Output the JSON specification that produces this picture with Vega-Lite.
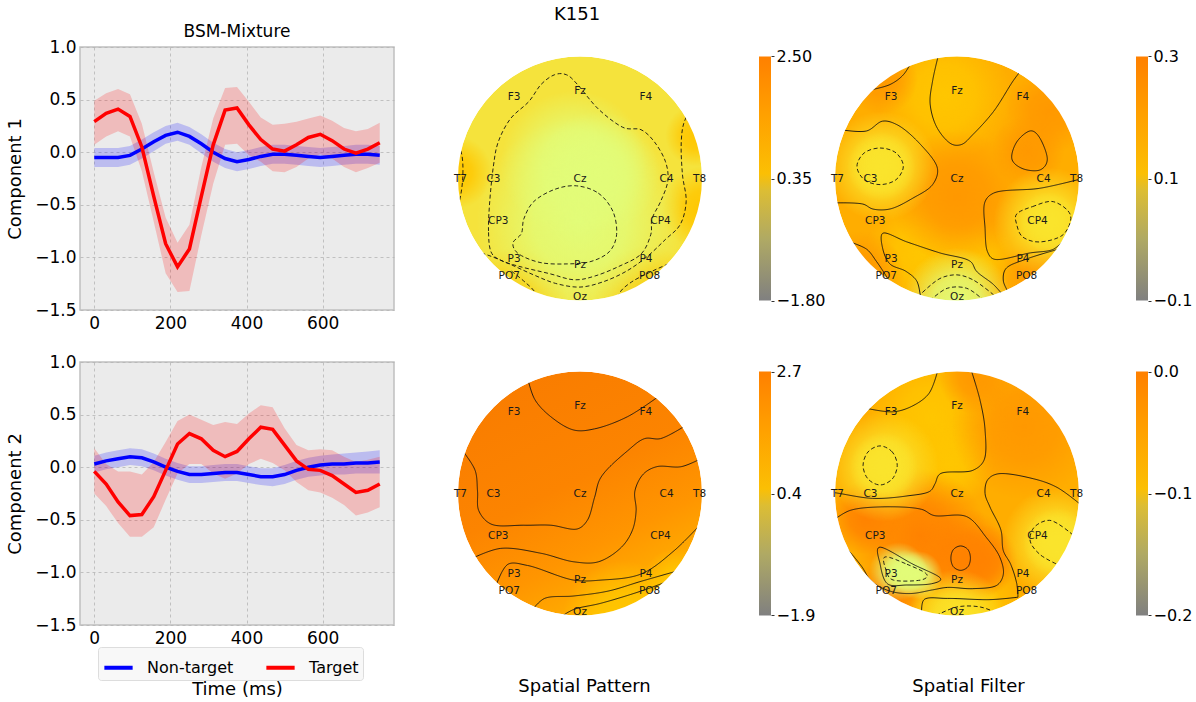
{
"$schema": "https://vega.github.io/schema/vega-lite/v6.json",
"background": "white",
"padding": {"left": 5, "top": 6, "right": 0, "bottom": 0},
"config": {
  "font": "DejaVu Sans",
  "view": {"stroke": null},
  "axis": {"labelFont": "DejaVu Sans", "titleFont": "DejaVu Sans", "labelColor": "#000", "titleColor": "#000", "titleFontWeight": "normal"},
  "title": {"font": "DejaVu Sans", "fontWeight": "normal", "color": "#000"},
  "legend": {"labelFont": "DejaVu Sans", "labelColor": "#000"}
},
"resolve": {"scale": {"color": "independent", "size": "independent", "strokeDash": "independent"}, "legend": {"color": "independent"}},
"datasets": {
  "ts": [
    {"c":1,"cls":"Non-target","t":0,"m":-0.05,"lo":-0.14,"hi":0.04},
    {"c":1,"cls":"Non-target","t":31.25,"m":-0.05,"lo":-0.14,"hi":0.04},
    {"c":1,"cls":"Non-target","t":62.5,"m":-0.05,"lo":-0.14,"hi":0.04},
    {"c":1,"cls":"Non-target","t":93.75,"m":-0.03,"lo":-0.12,"hi":0.06},
    {"c":1,"cls":"Non-target","t":125,"m":0.03,"lo":-0.06,"hi":0.12},
    {"c":1,"cls":"Non-target","t":156.25,"m":0.10,"lo":0.01,"hi":0.19},
    {"c":1,"cls":"Non-target","t":187.5,"m":0.16,"lo":0.08,"hi":0.25},
    {"c":1,"cls":"Non-target","t":218.75,"m":0.19,"lo":0.11,"hi":0.28},
    {"c":1,"cls":"Non-target","t":250,"m":0.15,"lo":0.07,"hi":0.24},
    {"c":1,"cls":"Non-target","t":281.25,"m":0.08,"lo":-0.01,"hi":0.17},
    {"c":1,"cls":"Non-target","t":312.5,"m":0.00,"lo":-0.09,"hi":0.09},
    {"c":1,"cls":"Non-target","t":343.75,"m":-0.06,"lo":-0.15,"hi":0.03},
    {"c":1,"cls":"Non-target","t":375,"m":-0.09,"lo":-0.18,"hi":0.00},
    {"c":1,"cls":"Non-target","t":406.25,"m":-0.07,"lo":-0.16,"hi":0.02},
    {"c":1,"cls":"Non-target","t":437.5,"m":-0.04,"lo":-0.13,"hi":0.05},
    {"c":1,"cls":"Non-target","t":468.75,"m":-0.02,"lo":-0.11,"hi":0.07},
    {"c":1,"cls":"Non-target","t":500,"m":-0.02,"lo":-0.11,"hi":0.07},
    {"c":1,"cls":"Non-target","t":531.25,"m":-0.03,"lo":-0.12,"hi":0.06},
    {"c":1,"cls":"Non-target","t":562.5,"m":-0.04,"lo":-0.13,"hi":0.05},
    {"c":1,"cls":"Non-target","t":593.75,"m":-0.05,"lo":-0.14,"hi":0.04},
    {"c":1,"cls":"Non-target","t":625,"m":-0.04,"lo":-0.13,"hi":0.05},
    {"c":1,"cls":"Non-target","t":656.25,"m":-0.03,"lo":-0.12,"hi":0.06},
    {"c":1,"cls":"Non-target","t":687.5,"m":-0.02,"lo":-0.11,"hi":0.07},
    {"c":1,"cls":"Non-target","t":718.75,"m":-0.02,"lo":-0.11,"hi":0.07},
    {"c":1,"cls":"Non-target","t":750,"m":-0.03,"lo":-0.12,"hi":0.06},
    {"c":1,"cls":"Target","t":0,"m":0.29,"lo":0.07,"hi":0.49},
    {"c":1,"cls":"Target","t":31.25,"m":0.37,"lo":0.15,"hi":0.56},
    {"c":1,"cls":"Target","t":62.5,"m":0.41,"lo":0.20,"hi":0.60},
    {"c":1,"cls":"Target","t":93.75,"m":0.34,"lo":0.15,"hi":0.55},
    {"c":1,"cls":"Target","t":125,"m":0.05,"lo":-0.18,"hi":0.27},
    {"c":1,"cls":"Target","t":156.25,"m":-0.42,"lo":-0.66,"hi":-0.19},
    {"c":1,"cls":"Target","t":187.5,"m":-0.87,"lo":-1.15,"hi":-0.62},
    {"c":1,"cls":"Target","t":218.75,"m":-1.09,"lo":-1.33,"hi":-0.86},
    {"c":1,"cls":"Target","t":250,"m":-0.92,"lo":-1.32,"hi":-0.69},
    {"c":1,"cls":"Target","t":281.25,"m":-0.42,"lo":-0.79,"hi":-0.14},
    {"c":1,"cls":"Target","t":312.5,"m":0.07,"lo":-0.30,"hi":0.32},
    {"c":1,"cls":"Target","t":343.75,"m":0.40,"lo":0.07,"hi":0.61},
    {"c":1,"cls":"Target","t":375,"m":0.42,"lo":0.08,"hi":0.62},
    {"c":1,"cls":"Target","t":406.25,"m":0.26,"lo":-0.03,"hi":0.48},
    {"c":1,"cls":"Target","t":437.5,"m":0.12,"lo":-0.09,"hi":0.33},
    {"c":1,"cls":"Target","t":468.75,"m":0.03,"lo":-0.18,"hi":0.26},
    {"c":1,"cls":"Target","t":500,"m":0.01,"lo":-0.19,"hi":0.27},
    {"c":1,"cls":"Target","t":531.25,"m":0.07,"lo":-0.14,"hi":0.29},
    {"c":1,"cls":"Target","t":562.5,"m":0.14,"lo":-0.06,"hi":0.32},
    {"c":1,"cls":"Target","t":593.75,"m":0.17,"lo":-0.02,"hi":0.35},
    {"c":1,"cls":"Target","t":625,"m":0.11,"lo":-0.06,"hi":0.30},
    {"c":1,"cls":"Target","t":656.25,"m":0.03,"lo":-0.14,"hi":0.23},
    {"c":1,"cls":"Target","t":687.5,"m":-0.01,"lo":-0.19,"hi":0.20},
    {"c":1,"cls":"Target","t":718.75,"m":0.03,"lo":-0.15,"hi":0.22},
    {"c":1,"cls":"Target","t":750,"m":0.09,"lo":-0.10,"hi":0.28},
    {"c":2,"cls":"Non-target","t":0,"m":0.03,"lo":-0.05,"hi":0.11},
    {"c":2,"cls":"Non-target","t":31.25,"m":0.06,"lo":-0.02,"hi":0.14},
    {"c":2,"cls":"Non-target","t":62.5,"m":0.08,"lo":0.00,"hi":0.16},
    {"c":2,"cls":"Non-target","t":93.75,"m":0.10,"lo":0.02,"hi":0.18},
    {"c":2,"cls":"Non-target","t":125,"m":0.09,"lo":0.01,"hi":0.17},
    {"c":2,"cls":"Non-target","t":156.25,"m":0.05,"lo":-0.03,"hi":0.13},
    {"c":2,"cls":"Non-target","t":187.5,"m":0.00,"lo":-0.08,"hi":0.08},
    {"c":2,"cls":"Non-target","t":218.75,"m":-0.04,"lo":-0.12,"hi":0.04},
    {"c":2,"cls":"Non-target","t":250,"m":-0.07,"lo":-0.15,"hi":0.01},
    {"c":2,"cls":"Non-target","t":281.25,"m":-0.07,"lo":-0.15,"hi":0.01},
    {"c":2,"cls":"Non-target","t":312.5,"m":-0.06,"lo":-0.14,"hi":0.02},
    {"c":2,"cls":"Non-target","t":343.75,"m":-0.05,"lo":-0.13,"hi":0.03},
    {"c":2,"cls":"Non-target","t":375,"m":-0.05,"lo":-0.13,"hi":0.03},
    {"c":2,"cls":"Non-target","t":406.25,"m":-0.07,"lo":-0.15,"hi":0.01},
    {"c":2,"cls":"Non-target","t":437.5,"m":-0.09,"lo":-0.17,"hi":-0.01},
    {"c":2,"cls":"Non-target","t":468.75,"m":-0.09,"lo":-0.18,"hi":-0.01},
    {"c":2,"cls":"Non-target","t":500,"m":-0.07,"lo":-0.16,"hi":0.02},
    {"c":2,"cls":"Non-target","t":531.25,"m":-0.03,"lo":-0.12,"hi":0.06},
    {"c":2,"cls":"Non-target","t":562.5,"m":0.00,"lo":-0.09,"hi":0.09},
    {"c":2,"cls":"Non-target","t":593.75,"m":0.02,"lo":-0.08,"hi":0.11},
    {"c":2,"cls":"Non-target","t":625,"m":0.03,"lo":-0.07,"hi":0.12},
    {"c":2,"cls":"Non-target","t":656.25,"m":0.03,"lo":-0.07,"hi":0.13},
    {"c":2,"cls":"Non-target","t":687.5,"m":0.04,"lo":-0.06,"hi":0.14},
    {"c":2,"cls":"Non-target","t":718.75,"m":0.04,"lo":-0.06,"hi":0.15},
    {"c":2,"cls":"Non-target","t":750,"m":0.05,"lo":-0.06,"hi":0.16},
    {"c":2,"cls":"Target","t":0,"m":-0.04,"lo":-0.25,"hi":0.18},
    {"c":2,"cls":"Target","t":31.25,"m":-0.16,"lo":-0.37,"hi":0.03},
    {"c":2,"cls":"Target","t":62.5,"m":-0.33,"lo":-0.53,"hi":-0.04},
    {"c":2,"cls":"Target","t":93.75,"m":-0.46,"lo":-0.66,"hi":-0.04},
    {"c":2,"cls":"Target","t":125,"m":-0.45,"lo":-0.66,"hi":-0.07},
    {"c":2,"cls":"Target","t":156.25,"m":-0.28,"lo":-0.57,"hi":0.05},
    {"c":2,"cls":"Target","t":187.5,"m":-0.03,"lo":-0.31,"hi":0.24},
    {"c":2,"cls":"Target","t":218.75,"m":0.22,"lo":-0.06,"hi":0.44},
    {"c":2,"cls":"Target","t":250,"m":0.32,"lo":0.03,"hi":0.50},
    {"c":2,"cls":"Target","t":281.25,"m":0.27,"lo":0.03,"hi":0.45},
    {"c":2,"cls":"Target","t":312.5,"m":0.16,"lo":-0.06,"hi":0.40},
    {"c":2,"cls":"Target","t":343.75,"m":0.10,"lo":-0.11,"hi":0.43},
    {"c":2,"cls":"Target","t":375,"m":0.15,"lo":-0.06,"hi":0.41},
    {"c":2,"cls":"Target","t":406.25,"m":0.27,"lo":0.03,"hi":0.51},
    {"c":2,"cls":"Target","t":437.5,"m":0.38,"lo":0.08,"hi":0.59},
    {"c":2,"cls":"Target","t":468.75,"m":0.36,"lo":0.04,"hi":0.57},
    {"c":2,"cls":"Target","t":500,"m":0.21,"lo":-0.03,"hi":0.37},
    {"c":2,"cls":"Target","t":531.25,"m":0.06,"lo":-0.14,"hi":0.21},
    {"c":2,"cls":"Target","t":562.5,"m":-0.02,"lo":-0.22,"hi":0.16},
    {"c":2,"cls":"Target","t":593.75,"m":-0.03,"lo":-0.24,"hi":0.17},
    {"c":2,"cls":"Target","t":625,"m":-0.08,"lo":-0.29,"hi":0.16},
    {"c":2,"cls":"Target","t":656.25,"m":-0.16,"lo":-0.36,"hi":0.10},
    {"c":2,"cls":"Target","t":687.5,"m":-0.24,"lo":-0.46,"hi":0.05},
    {"c":2,"cls":"Target","t":718.75,"m":-0.22,"lo":-0.43,"hi":0.07},
    {"c":2,"cls":"Target","t":750,"m":-0.16,"lo":-0.38,"hi":0.10}
  ],
  "disk": [
    {"m":1,"x":0,"y":0,"r":1},{"m":2,"x":0,"y":0,"r":1},{"m":3,"x":0,"y":0,"r":1},{"m":4,"x":0,"y":0,"r":1}
  ],
  "blobs": [
    {"m":1,"k":"gold","x":-0.55,"y":-1.02,"r":0.45},
    {"m":1,"k":"gold","x":0.55,"y":-1.0,"r":0.45},
    {"m":1,"k":"gold","x":1.02,"y":-0.25,"r":0.35},
    {"m":1,"k":"gold","x":0.95,"y":0.35,"r":0.25},
    {"m":1,"k":"gold","x":-1.02,"y":0.05,"r":0.3},
    {"m":1,"k":"lime","x":0,"y":-0.35,"r":0.85},
    {"m":1,"k":"lime","x":-0.05,"y":0.12,"r":0.6},
    {"m":1,"k":"lime","x":0.15,"y":0.05,"r":0.5},
    {"m":2,"k":"gold","x":-0.1,"y":0.68,"r":0.55},
    {"m":2,"k":"gold","x":-0.3,"y":-0.62,"r":0.45},
    {"m":2,"k":"gold","x":0.12,"y":-0.66,"r":0.35},
    {"m":2,"k":"org","x":0.58,"y":0.22,"r":0.3},
    {"m":2,"k":"org","x":-0.78,"y":-0.78,"r":0.35},
    {"m":2,"k":"org","x":0.72,"y":-0.8,"r":0.35},
    {"m":2,"k":"org","x":0.0,"y":-0.15,"r":0.55},
    {"m":2,"k":"org","x":-0.62,"y":0.82,"r":0.3},
    {"m":2,"k":"org","x":0.75,"y":0.55,"r":0.35},
    {"m":2,"k":"ylw","x":-0.62,"y":0.1,"r":0.45},
    {"m":2,"k":"ylw","x":-0.62,"y":0.1,"r":0.28},
    {"m":2,"k":"ylw","x":0.75,"y":-0.36,"r":0.45},
    {"m":2,"k":"ylw","x":0.75,"y":-0.36,"r":0.25},
    {"m":2,"k":"lime","x":0,"y":-1.02,"r":0.45},
    {"m":3,"k":"gold","x":0.35,"y":-1.05,"r":0.5},
    {"m":3,"k":"gold","x":0.8,"y":-0.75,"r":0.3},
    {"m":4,"k":"gold","x":-0.2,"y":0.62,"r":0.55},
    {"m":4,"k":"gold","x":-0.05,"y":0.25,"r":0.35},
    {"m":4,"k":"gold","x":0.1,"y":-1.0,"r":0.5},
    {"m":4,"k":"org","x":0.55,"y":0.55,"r":0.6},
    {"m":4,"k":"org","x":0.15,"y":0.95,"r":0.3},
    {"m":4,"k":"dorg","x":-0.3,"y":-0.35,"r":0.55},
    {"m":4,"k":"dorg","x":0.05,"y":-0.52,"r":0.4},
    {"m":4,"k":"dorg","x":-0.75,"y":-0.2,"r":0.3},
    {"m":4,"k":"dorg","x":-0.58,"y":-0.85,"r":0.3},
    {"m":4,"k":"dorg","x":0.2,"y":-0.55,"r":0.3},
    {"m":4,"k":"ylw","x":-0.6,"y":0.22,"r":0.45},
    {"m":4,"k":"ylw","x":-0.6,"y":0.22,"r":0.28},
    {"m":4,"k":"ylw","x":0.82,"y":-0.4,"r":0.45},
    {"m":4,"k":"ylw","x":0.82,"y":-0.4,"r":0.28},
    {"m":4,"k":"ylw","x":0.0,"y":-1.02,"r":0.4},
    {"m":4,"k":"lime","x":-0.48,"y":-0.64,"r":0.24},
    {"m":4,"k":"lime","x":-0.32,"y":-0.67,"r":0.2},
    {"m":4,"k":"lime","x":-0.42,"y":-0.64,"r":0.18}
  ],
  "ct": [
    {"m":1,"c":"1C","ls":"d","x":-1.03,"y":0.32},{"m":1,"c":"1C","ls":"d","x":-0.975,"y":0.22},{"m":1,"c":"1C","ls":"d","x":-0.96,"y":0.03},{"m":1,"c":"1C","ls":"d","x":-0.99,"y":-0.19},{"m":1,"c":"1C","ls":"d","x":-1.03,"y":-0.28},
    {"m":1,"c":"1D","ls":"d","x":0.92,"y":0.6},{"m":1,"c":"1D","ls":"d","x":0.85,"y":0.45},{"m":1,"c":"1D","ls":"d","x":0.83,"y":0.3},{"m":1,"c":"1D","ls":"d","x":0.84,"y":0.03},{"m":1,"c":"1D","ls":"d","x":0.87,"y":-0.19},{"m":1,"c":"1D","ls":"d","x":0.82,"y":-0.38},{"m":1,"c":"1D","ls":"d","x":0.7,"y":-0.5},{"m":1,"c":"1D","ls":"d","x":0.55,"y":-0.64},{"m":1,"c":"1D","ls":"d","x":0.38,"y":-0.76},{"m":1,"c":"1D","ls":"d","x":0.18,"y":-0.85},{"m":1,"c":"1D","ls":"d","x":0,"y":-0.89},{"m":1,"c":"1D","ls":"d","x":-0.2,"y":-0.86},{"m":1,"c":"1D","ls":"d","x":-0.38,"y":-0.79},{"m":1,"c":"1D","ls":"d","x":-0.58,"y":-0.7},{"m":1,"c":"1D","ls":"d","x":-0.78,"y":-0.62},{"m":1,"c":"1D","ls":"d","x":-0.96,"y":-0.58},
    {"m":1,"c":"1E","ls":"d","x":-0.56,"y":-0.76},{"m":1,"c":"1E","ls":"d","x":-0.45,"y":-0.85},{"m":1,"c":"1E","ls":"d","x":-0.37,"y":-0.93},{"m":1,"c":"1E","ls":"d","x":-0.33,"y":-1.03},
    {"m":1,"c":"1F","ls":"d","x":0.3,"y":-1.03},{"m":1,"c":"1F","ls":"d","x":0.33,"y":-0.93},{"m":1,"c":"1F","ls":"d","x":0.42,"y":-0.85},{"m":1,"c":"1F","ls":"d","x":0.57,"y":-0.77},{"m":1,"c":"1F","ls":"d","x":0.77,"y":-0.68},{"m":1,"c":"1F","ls":"d","x":0.95,"y":-0.6},
    {"m":2,"c":"2A","ls":"s","x":-0.74,"y":0.72},{"m":2,"c":"2A","ls":"s","x":-0.55,"y":0.77},{"m":2,"c":"2A","ls":"s","x":-0.44,"y":0.85},{"m":2,"c":"2A","ls":"s","x":-0.36,"y":0.98},
    {"m":2,"c":"2B","ls":"s","x":-0.15,"y":1.02},{"m":2,"c":"2B","ls":"s","x":-0.2,"y":0.8},{"m":2,"c":"2B","ls":"s","x":-0.22,"y":0.61},{"m":2,"c":"2B","ls":"s","x":-0.16,"y":0.41},{"m":2,"c":"2B","ls":"s","x":-0.04,"y":0.28},{"m":2,"c":"2B","ls":"s","x":0.04,"y":0.28},{"m":2,"c":"2B","ls":"s","x":0.13,"y":0.36},{"m":2,"c":"2B","ls":"s","x":0.3,"y":0.55},{"m":2,"c":"2B","ls":"s","x":0.46,"y":0.8},{"m":2,"c":"2B","ls":"s","x":0.52,"y":0.88},
    {"m":2,"c":"2C","ls":"s","x":-0.95,"y":0.4},{"m":2,"c":"2C","ls":"s","x":-0.74,"y":0.39},{"m":2,"c":"2C","ls":"s","x":-0.61,"y":0.47},{"m":2,"c":"2C","ls":"s","x":-0.49,"y":0.44},{"m":2,"c":"2C","ls":"s","x":-0.3,"y":0.28},{"m":2,"c":"2C","ls":"s","x":-0.16,"y":0.08},{"m":2,"c":"2C","ls":"s","x":-0.2,"y":-0.05},{"m":2,"c":"2C","ls":"s","x":-0.36,"y":-0.16},{"m":2,"c":"2C","ls":"s","x":-0.55,"y":-0.25},{"m":2,"c":"2C","ls":"s","x":-0.69,"y":-0.25},{"m":2,"c":"2C","ls":"s","x":-0.77,"y":-0.21},{"m":2,"c":"2C","ls":"s","x":-0.99,"y":-0.2},
    {"m":2,"c":"2F","ls":"s","x":0.99,"y":-0.01},{"m":2,"c":"2F","ls":"s","x":0.68,"y":-0.08},{"m":2,"c":"2F","ls":"s","x":0.3,"y":-0.12},{"m":2,"c":"2F","ls":"s","x":0.23,"y":-0.19},{"m":2,"c":"2F","ls":"s","x":0.23,"y":-0.41},{"m":2,"c":"2F","ls":"s","x":0.25,"y":-0.6},{"m":2,"c":"2F","ls":"s","x":0.3,"y":-0.66},{"m":2,"c":"2F","ls":"s","x":0.6,"y":-0.61},{"m":2,"c":"2F","ls":"s","x":0.79,"y":-0.58},{"m":2,"c":"2F","ls":"s","x":0.87,"y":-0.51},
    {"m":2,"c":"2H","ls":"s","x":-0.3,"y":-0.97},{"m":2,"c":"2H","ls":"s","x":-0.33,"y":-0.84},{"m":2,"c":"2H","ls":"s","x":-0.42,"y":-0.76},{"m":2,"c":"2H","ls":"s","x":-0.55,"y":-0.7},{"m":2,"c":"2H","ls":"s","x":-0.61,"y":-0.57},{"m":2,"c":"2H","ls":"s","x":-0.61,"y":-0.45},{"m":2,"c":"2H","ls":"s","x":-0.41,"y":-0.52},{"m":2,"c":"2H","ls":"s","x":-0.14,"y":-0.61},{"m":2,"c":"2H","ls":"s","x":0.11,"y":-0.68},{"m":2,"c":"2H","ls":"s","x":0.16,"y":-0.76},{"m":2,"c":"2H","ls":"s","x":0.3,"y":-0.87},{"m":2,"c":"2H","ls":"s","x":0.38,"y":-0.96},
    {"m":2,"c":"2I","ls":"s","x":-0.88,"y":-0.52},{"m":2,"c":"2I","ls":"s","x":-0.74,"y":-0.58},{"m":2,"c":"2I","ls":"s","x":-0.66,"y":-0.68},{"m":2,"c":"2I","ls":"s","x":-0.58,"y":-0.8},{"m":2,"c":"2I","ls":"s","x":-0.52,"y":-0.9},
    {"m":2,"c":"2J","ls":"s","x":0.83,"y":-0.58},{"m":2,"c":"2J","ls":"s","x":0.57,"y":-0.66},{"m":2,"c":"2J","ls":"s","x":0.4,"y":-0.74},{"m":2,"c":"2J","ls":"s","x":0.38,"y":-0.84},{"m":2,"c":"2J","ls":"s","x":0.42,"y":-0.93},
    {"m":2,"c":"2K","ls":"d","x":-0.32,"y":-0.97},{"m":2,"c":"2K","ls":"d","x":-0.14,"y":-0.82},{"m":2,"c":"2K","ls":"d","x":0,"y":-0.79},{"m":2,"c":"2K","ls":"d","x":0.13,"y":-0.83},{"m":2,"c":"2K","ls":"d","x":0.32,"y":-0.97},
    {"m":2,"c":"2L","ls":"d","x":-0.22,"y":-1.0},{"m":2,"c":"2L","ls":"d","x":-0.08,"y":-0.9},{"m":2,"c":"2L","ls":"d","x":0.08,"y":-0.9},{"m":2,"c":"2L","ls":"d","x":0.22,"y":-1.0},
    {"m":3,"c":"3A","ls":"s","x":-0.43,"y":0.95},{"m":3,"c":"3A","ls":"s","x":-0.37,"y":0.77},{"m":3,"c":"3A","ls":"s","x":-0.24,"y":0.63},{"m":3,"c":"3A","ls":"s","x":-0.05,"y":0.52},{"m":3,"c":"3A","ls":"s","x":0.12,"y":0.53},{"m":3,"c":"3A","ls":"s","x":0.39,"y":0.63},{"m":3,"c":"3A","ls":"s","x":0.65,"y":0.8},
    {"m":3,"c":"3B","ls":"s","x":-0.97,"y":0.36},{"m":3,"c":"3B","ls":"s","x":-0.86,"y":0.19},{"m":3,"c":"3B","ls":"s","x":-0.84,"y":0.02},{"m":3,"c":"3B","ls":"s","x":-0.83,"y":-0.14},{"m":3,"c":"3B","ls":"s","x":-0.73,"y":-0.25},{"m":3,"c":"3B","ls":"s","x":-0.46,"y":-0.26},{"m":3,"c":"3B","ls":"s","x":-0.24,"y":-0.26},{"m":3,"c":"3B","ls":"s","x":-0.02,"y":-0.29},{"m":3,"c":"3B","ls":"s","x":0.06,"y":-0.22},{"m":3,"c":"3B","ls":"s","x":0.12,"y":-0.03},{"m":3,"c":"3B","ls":"s","x":0.17,"y":0.13},{"m":3,"c":"3B","ls":"s","x":0.39,"y":0.35},{"m":3,"c":"3B","ls":"s","x":0.53,"y":0.45},{"m":3,"c":"3B","ls":"s","x":0.66,"y":0.45},{"m":3,"c":"3B","ls":"s","x":0.87,"y":0.56},
    {"m":3,"c":"3C","ls":"s","x":-0.88,"y":-0.53},{"m":3,"c":"3C","ls":"s","x":-0.65,"y":-0.45},{"m":3,"c":"3C","ls":"s","x":-0.32,"y":-0.49},{"m":3,"c":"3C","ls":"s","x":-0.05,"y":-0.56},{"m":3,"c":"3C","ls":"s","x":0.15,"y":-0.56},{"m":3,"c":"3C","ls":"s","x":0.34,"y":-0.44},{"m":3,"c":"3C","ls":"s","x":0.43,"y":-0.3},{"m":3,"c":"3C","ls":"s","x":0.46,"y":-0.14},{"m":3,"c":"3C","ls":"s","x":0.45,"y":0.02},{"m":3,"c":"3C","ls":"s","x":0.52,"y":0.16},{"m":3,"c":"3C","ls":"s","x":0.63,"y":0.22},{"m":3,"c":"3C","ls":"s","x":0.83,"y":0.22},{"m":3,"c":"3C","ls":"s","x":1.0,"y":0.29},
    {"m":3,"c":"3D","ls":"s","x":-0.69,"y":-0.76},{"m":3,"c":"3D","ls":"s","x":-0.59,"y":-0.58},{"m":3,"c":"3D","ls":"s","x":-0.43,"y":-0.59},{"m":3,"c":"3D","ls":"s","x":-0.05,"y":-0.71},{"m":3,"c":"3D","ls":"s","x":0.17,"y":-0.71},{"m":3,"c":"3D","ls":"s","x":0.5,"y":-0.66},{"m":3,"c":"3D","ls":"s","x":0.77,"y":-0.47},{"m":3,"c":"3D","ls":"s","x":1.0,"y":-0.24},
    {"m":3,"c":"3E","ls":"s","x":-0.38,"y":-0.94},{"m":3,"c":"3E","ls":"s","x":-0.29,"y":-0.86},{"m":3,"c":"3E","ls":"s","x":-0.05,"y":-0.84},{"m":3,"c":"3E","ls":"s","x":0.23,"y":-0.8},{"m":3,"c":"3E","ls":"s","x":0.5,"y":-0.72},{"m":3,"c":"3E","ls":"s","x":0.78,"y":-0.64},
    {"m":3,"c":"3F","ls":"s","x":-0.14,"y":-1.0},{"m":3,"c":"3F","ls":"s","x":-0.05,"y":-0.95},{"m":3,"c":"3F","ls":"s","x":0.17,"y":-0.9},{"m":3,"c":"3F","ls":"s","x":0.5,"y":-0.8},{"m":3,"c":"3F","ls":"s","x":0.72,"y":-0.72},
    {"m":4,"c":"4A","ls":"s","x":-0.75,"y":0.7},{"m":4,"c":"4A","ls":"s","x":-0.52,"y":0.67},{"m":4,"c":"4A","ls":"s","x":-0.36,"y":0.72},{"m":4,"c":"4A","ls":"s","x":-0.23,"y":0.82},{"m":4,"c":"4A","ls":"s","x":-0.16,"y":1.0},
    {"m":4,"c":"4B","ls":"s","x":0.12,"y":1.0},{"m":4,"c":"4B","ls":"s","x":0.19,"y":0.76},{"m":4,"c":"4B","ls":"s","x":0.23,"y":0.52},{"m":4,"c":"4B","ls":"s","x":0.22,"y":0.27},{"m":4,"c":"4B","ls":"s","x":0.13,"y":0.19},{"m":4,"c":"4B","ls":"s","x":-0.14,"y":0.16},{"m":4,"c":"4B","ls":"s","x":-0.18,"y":0.08},{"m":4,"c":"4B","ls":"s","x":-0.22,"y":0.02},{"m":4,"c":"4B","ls":"s","x":-0.41,"y":-0.02},{"m":4,"c":"4B","ls":"s","x":-0.69,"y":-0.04},{"m":4,"c":"4B","ls":"s","x":-0.96,"y":0.0},{"m":4,"c":"4B","ls":"s","x":-1.02,"y":0.01},
    {"m":4,"c":"4C","ls":"s","x":1.0,"y":-0.08},{"m":4,"c":"4C","ls":"s","x":0.82,"y":0.05},{"m":4,"c":"4C","ls":"s","x":0.63,"y":0.12},{"m":4,"c":"4C","ls":"s","x":0.33,"y":0.16},{"m":4,"c":"4C","ls":"s","x":0.25,"y":0.11},{"m":4,"c":"4C","ls":"s","x":0.23,"y":0.0},{"m":4,"c":"4C","ls":"s","x":0.27,"y":-0.11},{"m":4,"c":"4C","ls":"s","x":0.36,"y":-0.3},{"m":4,"c":"4C","ls":"s","x":0.38,"y":-0.47},{"m":4,"c":"4C","ls":"s","x":0.44,"y":-0.58},{"m":4,"c":"4C","ls":"s","x":0.49,"y":-0.74},{"m":4,"c":"4C","ls":"s","x":0.5,"y":-0.85},
    {"m":4,"c":"4E","ls":"d","x":0.95,"y":-0.34},{"m":4,"c":"4E","ls":"d","x":0.76,"y":-0.22},{"m":4,"c":"4E","ls":"d","x":0.63,"y":-0.28},{"m":4,"c":"4E","ls":"d","x":0.6,"y":-0.39},{"m":4,"c":"4E","ls":"d","x":0.68,"y":-0.5},{"m":4,"c":"4E","ls":"d","x":0.82,"y":-0.58},
    {"m":4,"c":"4F","ls":"s","x":-1.0,"y":-0.21},{"m":4,"c":"4F","ls":"s","x":-0.88,"y":-0.14},{"m":4,"c":"4F","ls":"s","x":-0.63,"y":-0.11},{"m":4,"c":"4F","ls":"s","x":-0.29,"y":-0.13},{"m":4,"c":"4F","ls":"s","x":-0.19,"y":-0.18},{"m":4,"c":"4F","ls":"s","x":0.08,"y":-0.19},{"m":4,"c":"4F","ls":"s","x":0.24,"y":-0.36},{"m":4,"c":"4F","ls":"s","x":0.35,"y":-0.52},{"m":4,"c":"4F","ls":"s","x":0.38,"y":-0.66},{"m":4,"c":"4F","ls":"s","x":0.33,"y":-0.75},{"m":4,"c":"4F","ls":"s","x":0.13,"y":-0.78},{"m":4,"c":"4F","ls":"s","x":-0.08,"y":-0.77},{"m":4,"c":"4F","ls":"s","x":-0.2,"y":-0.79},{"m":4,"c":"4F","ls":"s","x":-0.38,"y":-0.82},{"m":4,"c":"4F","ls":"s","x":-0.55,"y":-0.8},{"m":4,"c":"4F","ls":"s","x":-0.7,"y":-0.72},{"m":4,"c":"4F","ls":"s","x":-0.78,"y":-0.6},{"m":4,"c":"4F","ls":"s","x":-0.86,"y":-0.5},{"m":4,"c":"4F","ls":"s","x":-0.97,"y":-0.38},
    {"m":4,"c":"4I","ls":"s","x":-0.29,"y":-0.97},{"m":4,"c":"4I","ls":"s","x":-0.27,"y":-0.87},{"m":4,"c":"4I","ls":"s","x":-0.08,"y":-0.86},{"m":4,"c":"4I","ls":"s","x":0.27,"y":-0.87},{"m":4,"c":"4I","ls":"s","x":0.5,"y":-0.85},
    {"m":4,"c":"4J","ls":"d","x":-0.17,"y":-1.0},{"m":4,"c":"4J","ls":"d","x":0,"y":-0.93},{"m":4,"c":"4J","ls":"d","x":0.19,"y":-0.93},{"m":4,"c":"4J","ls":"d","x":0.33,"y":-0.98}
  ],
  "cc": [
    {"m":1,"c":"1A","ls":"d","x":-0.73,"y":-0.6},{"m":1,"c":"1A","ls":"d","x":-0.75,"y":-0.43},{"m":1,"c":"1A","ls":"d","x":-0.74,"y":-0.19},{"m":1,"c":"1A","ls":"d","x":-0.71,"y":0.1},{"m":1,"c":"1A","ls":"d","x":-0.67,"y":0.3},{"m":1,"c":"1A","ls":"d","x":-0.57,"y":0.49},{"m":1,"c":"1A","ls":"d","x":-0.42,"y":0.63},{"m":1,"c":"1A","ls":"d","x":-0.32,"y":0.77},{"m":1,"c":"1A","ls":"d","x":-0.21,"y":0.85},{"m":1,"c":"1A","ls":"d","x":-0.11,"y":0.85},{"m":1,"c":"1A","ls":"d","x":-0.02,"y":0.77},{"m":1,"c":"1A","ls":"d","x":0.15,"y":0.57},{"m":1,"c":"1A","ls":"d","x":0.35,"y":0.42},{"m":1,"c":"1A","ls":"d","x":0.5,"y":0.4},{"m":1,"c":"1A","ls":"d","x":0.61,"y":0.3},{"m":1,"c":"1A","ls":"d","x":0.7,"y":0.14},{"m":1,"c":"1A","ls":"d","x":0.72,"y":-0.02},{"m":1,"c":"1A","ls":"d","x":0.66,"y":-0.19},{"m":1,"c":"1A","ls":"d","x":0.59,"y":-0.33},{"m":1,"c":"1A","ls":"d","x":0.58,"y":-0.46},{"m":1,"c":"1A","ls":"d","x":0.5,"y":-0.62},{"m":1,"c":"1A","ls":"d","x":0.32,"y":-0.72},{"m":1,"c":"1A","ls":"d","x":0.12,"y":-0.8},{"m":1,"c":"1A","ls":"d","x":-0.05,"y":-0.83},{"m":1,"c":"1A","ls":"d","x":-0.25,"y":-0.78},{"m":1,"c":"1A","ls":"d","x":-0.5,"y":-0.72},{"m":1,"c":"1A","ls":"d","x":-0.65,"y":-0.67},
    {"m":1,"c":"1B","ls":"d","x":-0.03,"y":-0.06},{"m":1,"c":"1B","ls":"d","x":0.15,"y":-0.12},{"m":1,"c":"1B","ls":"d","x":0.27,"y":-0.27},{"m":1,"c":"1B","ls":"d","x":0.3,"y":-0.46},{"m":1,"c":"1B","ls":"d","x":0.24,"y":-0.6},{"m":1,"c":"1B","ls":"d","x":0.09,"y":-0.68},{"m":1,"c":"1B","ls":"d","x":-0.1,"y":-0.7},{"m":1,"c":"1B","ls":"d","x":-0.32,"y":-0.69},{"m":1,"c":"1B","ls":"d","x":-0.5,"y":-0.62},{"m":1,"c":"1B","ls":"d","x":-0.55,"y":-0.53},{"m":1,"c":"1B","ls":"d","x":-0.48,"y":-0.45},{"m":1,"c":"1B","ls":"d","x":-0.46,"y":-0.33},{"m":1,"c":"1B","ls":"d","x":-0.38,"y":-0.19},{"m":1,"c":"1B","ls":"d","x":-0.21,"y":-0.09},
    {"m":2,"c":"2D","ls":"d","x":-0.44,"y":0.1},{"m":2,"c":"2D","ls":"d","x":-0.5,"y":0.21},{"m":2,"c":"2D","ls":"d","x":-0.63,"y":0.25},{"m":2,"c":"2D","ls":"d","x":-0.76,"y":0.21},{"m":2,"c":"2D","ls":"d","x":-0.82,"y":0.1},{"m":2,"c":"2D","ls":"d","x":-0.76,"y":-0.01},{"m":2,"c":"2D","ls":"d","x":-0.63,"y":-0.05},{"m":2,"c":"2D","ls":"d","x":-0.5,"y":-0.01},
    {"m":2,"c":"2E","ls":"s","x":0.45,"y":0.16},{"m":2,"c":"2E","ls":"s","x":0.49,"y":0.3},{"m":2,"c":"2E","ls":"s","x":0.6,"y":0.39},{"m":2,"c":"2E","ls":"s","x":0.68,"y":0.33},{"m":2,"c":"2E","ls":"s","x":0.74,"y":0.16},{"m":2,"c":"2E","ls":"s","x":0.68,"y":0.07},{"m":2,"c":"2E","ls":"s","x":0.54,"y":0.08},
    {"m":2,"c":"2G","ls":"d","x":0.49,"y":-0.29},{"m":2,"c":"2G","ls":"d","x":0.62,"y":-0.23},{"m":2,"c":"2G","ls":"d","x":0.79,"y":-0.19},{"m":2,"c":"2G","ls":"d","x":0.93,"y":-0.3},{"m":2,"c":"2G","ls":"d","x":0.87,"y":-0.46},{"m":2,"c":"2G","ls":"d","x":0.68,"y":-0.52},{"m":2,"c":"2G","ls":"d","x":0.54,"y":-0.48},{"m":2,"c":"2G","ls":"d","x":0.49,"y":-0.38},
    {"m":4,"c":"4D","ls":"d","x":-0.49,"y":0.23},{"m":4,"c":"4D","ls":"d","x":-0.53,"y":0.34},{"m":4,"c":"4D","ls":"d","x":-0.63,"y":0.39},{"m":4,"c":"4D","ls":"d","x":-0.73,"y":0.34},{"m":4,"c":"4D","ls":"d","x":-0.77,"y":0.23},{"m":4,"c":"4D","ls":"d","x":-0.73,"y":0.12},{"m":4,"c":"4D","ls":"d","x":-0.63,"y":0.07},{"m":4,"c":"4D","ls":"d","x":-0.53,"y":0.12},
    {"m":4,"c":"4G","ls":"s","x":-0.63,"y":-0.44},{"m":4,"c":"4G","ls":"s","x":-0.36,"y":-0.58},{"m":4,"c":"4G","ls":"s","x":-0.14,"y":-0.69},{"m":4,"c":"4G","ls":"s","x":-0.21,"y":-0.74},{"m":4,"c":"4G","ls":"s","x":-0.41,"y":-0.75},{"m":4,"c":"4G","ls":"s","x":-0.57,"y":-0.74},{"m":4,"c":"4G","ls":"s","x":-0.63,"y":-0.58},
    {"m":4,"c":"4K","ls":"d","x":-0.59,"y":-0.52},{"m":4,"c":"4K","ls":"d","x":-0.41,"y":-0.58},{"m":4,"c":"4K","ls":"d","x":-0.25,"y":-0.66},{"m":4,"c":"4K","ls":"d","x":-0.3,"y":-0.71},{"m":4,"c":"4K","ls":"d","x":-0.52,"y":-0.71},{"m":4,"c":"4K","ls":"d","x":-0.58,"y":-0.63},
    {"m":4,"c":"4H","ls":"s","x":0.11,"y":-0.53},{"m":4,"c":"4H","ls":"s","x":0.09,"y":-0.46},{"m":4,"c":"4H","ls":"s","x":0.03,"y":-0.43},{"m":4,"c":"4H","ls":"s","x":-0.03,"y":-0.46},{"m":4,"c":"4H","ls":"s","x":-0.05,"y":-0.53},{"m":4,"c":"4H","ls":"s","x":-0.03,"y":-0.6},{"m":4,"c":"4H","ls":"s","x":0.03,"y":-0.63},{"m":4,"c":"4H","ls":"s","x":0.09,"y":-0.6}
  ],
  "elec": [
    {"n":"Fz","x":0,"y":0.72},{"n":"F3","x":-0.54,"y":0.67},{"n":"F4","x":0.54,"y":0.67},
    {"n":"T7","x":-0.98,"y":0},{"n":"C3","x":-0.71,"y":0},{"n":"Cz","x":0,"y":0},{"n":"C4","x":0.71,"y":0},{"n":"T8","x":0.98,"y":0},
    {"n":"CP3","x":-0.67,"y":-0.35},{"n":"CP4","x":0.66,"y":-0.35},
    {"n":"P3","x":-0.54,"y":-0.66},{"n":"Pz","x":0,"y":-0.71},{"n":"P4","x":0.54,"y":-0.66},
    {"n":"PO7","x":-0.58,"y":-0.8},{"n":"PO8","x":0.57,"y":-0.8},{"n":"Oz","x":0,"y":-0.97}
  ],
  "cbar": [
    {"m":1,"lo":-1.8,"hi":2.5},{"m":2,"lo":-0.1,"hi":0.3},{"m":3,"lo":-1.9,"hi":2.7},{"m":4,"lo":-0.2,"hi":0.0}
  ]
},
"columns": 5,
"spacing": {"row": 20, "column": 4},
"concat": [
  {
    "width": 314, "height": 263,
    "view": {"fill": "#ebebeb", "stroke": "#c0c0c0", "strokeWidth": 1.5},
    "title": {"text": "BSM-Mixture", "fontSize": 17, "offset": -3},
    "data": {"name": "ts"},
    "transform": [{"filter": "datum.c == 1"}],
    "encoding": {
      "x": {"field": "t", "type": "quantitative", "scale": {"domain": [-37.5, 787.5], "nice": false, "zero": false},
            "axis": {"values": [0, 200, 400, 600], "format": "d", "labelFontSize": 17, "tickSize": 0, "labelPadding": 5, "domain": false, "grid": true, "gridColor": "#b5b5b5", "gridDash": [3, 3], "gridWidth": 0.8, "title": null}},
      "color": {"field": "cls", "type": "nominal", "scale": {"domain": ["Non-target", "Target"], "range": ["#0000ff", "#ff0000"]}, "legend": null}
    },
    "layer": [
      {"mark": {"type": "area", "opacity": 0.2},
       "encoding": {"y": {"field": "lo", "type": "quantitative", "scale": {"domain": [-1.5, 1.0], "nice": false, "zero": false},
                          "axis": {"values": [-1.5, -1, -0.5, 0, 0.5, 1], "format": ".1f", "labelFontSize": 17, "tickSize": 0, "labelPadding": 4, "domain": false, "grid": true, "gridColor": "#b5b5b5", "gridDash": [3, 3], "gridWidth": 0.8, "title": "Component 1", "titleFontSize": 18, "titlePadding": 10}},
                    "y2": {"field": "hi"}}},
      {"mark": {"type": "line", "strokeWidth": 3.5}, "encoding": {"y": {"field": "m", "type": "quantitative"}}}
    ]
  },
  {
    "width": 356, "height": 263,
    "title": {"text": "K151", "fontSize": 18, "offset": 23},
    "encoding": {
      "x": {"field": "x", "type": "quantitative", "scale": {"domain": [-1.4836, 1.4344], "nice": false, "zero": false}, "axis": null},
      "y": {"field": "y", "type": "quantitative", "scale": {"domain": [-1.0779, 1.0779], "nice": false, "zero": false}, "axis": null}
    },
    "layer": [
      {"data": {"name": "disk"}, "transform": [{"filter": "datum.m == 1"}],
       "mark": {"type": "point", "shape": "circle", "filled": true, "opacity": 1, "strokeWidth": 0, "clip": true, "fill": "#f5e33c"},
       "encoding": {"size": {"field": "r", "type": "quantitative", "scale": {"type": "pow", "exponent": 2, "domain": [0, 1], "range": [0, 59536]}, "legend": null}}},
      {"data": {"name": "blobs"}, "transform": [{"filter": "datum.m == 1 && datum.k == 'gold'"}],
       "mark": {"type": "point", "shape": "circle", "filled": true, "opacity": 1, "strokeWidth": 0, "clip": true,
                "fill": {"gradient": "radial", "stops": [{"offset": 0, "color": "rgba(255,198,0,1)"}, {"offset": 0.45, "color": "rgba(255,198,0,0.8)"}, {"offset": 1, "color": "rgba(255,198,0,0)"}]}},
       "encoding": {"size": {"field": "r", "type": "quantitative", "legend": null}}},
      {"data": {"name": "blobs"}, "transform": [{"filter": "datum.m == 1 && datum.k == 'lime'"}],
       "mark": {"type": "point", "shape": "circle", "filled": true, "opacity": 1, "strokeWidth": 0, "clip": true,
                "fill": {"gradient": "radial", "stops": [{"offset": 0, "color": "rgba(226,252,120,1)"}, {"offset": 0.45, "color": "rgba(226,252,120,0.8)"}, {"offset": 1, "color": "rgba(226,252,120,0)"}]}},
       "encoding": {"size": {"field": "r", "type": "quantitative", "legend": null}}},
      {"data": {"name": "ct"}, "transform": [{"filter": "datum.m == 1"}],
       "mark": {"type": "line", "interpolate": "catmull-rom", "clip": true, "strokeWidth": 0.9, "color": "#111111"},
       "encoding": {"detail": {"field": "c"}, "order": {"value": null}, "strokeDash": {"field": "ls", "type": "nominal", "scale": {"domain": ["s", "d"], "range": [[1, 0], [4, 2.5]]}, "legend": null}}},
      {"data": {"name": "cc"}, "transform": [{"filter": "datum.m == 1"}],
       "mark": {"type": "line", "interpolate": "cardinal-closed", "clip": true, "strokeWidth": 0.9, "color": "#111111"},
       "encoding": {"detail": {"field": "c"}, "order": {"value": null}, "strokeDash": {"field": "ls", "type": "nominal", "legend": null}}},
      {"data": {"name": "disk"}, "transform": [{"filter": "datum.m == 1"}],
       "mark": {"type": "point", "shape": "circle", "filled": false, "stroke": "#ffffff", "strokeWidth": 120, "size": 132496, "opacity": 1, "clip": true}},
      {"data": {"name": "elec"}, "mark": {"type": "text", "fontSize": 10.5, "color": "#1a1a1a"}, "encoding": {"text": {"field": "n", "type": "nominal"}}}
    ]
  },
  {
    "width": 12, "height": 263,
    "data": {"name": "cbar"}, "transform": [{"filter": "datum.m == 1"}],
    "mark": {"type": "rect", "fill": {"gradient": "linear", "x1": 0, "y1": 1, "x2": 0, "y2": 0, "stops": [{"offset": 0, "color": "#808080"}, {"offset": 0.25, "color": "#afa964"}, {"offset": 0.45, "color": "#dcbd34"}, {"offset": 0.52, "color": "#fbbf04"}, {"offset": 0.75, "color": "#ffa200"}, {"offset": 1, "color": "#ff8000"}]}},
    "encoding": {
      "y": {"field": "lo", "type": "quantitative", "scale": {"domain": [-1.9674, 2.6674], "nice": false, "zero": false},
            "axis": {"orient": "right", "values": [-1.8, 0.35, 2.5], "format": ".2f", "domain": false, "grid": false, "tickSize": 3, "tickColor": "#333333", "labelFontSize": 16, "labelPadding": 2, "title": null}},
      "y2": {"field": "hi"}
    }
  },
  {
    "width": 299, "height": 263,
    "encoding": {
      "x": {"field": "x", "type": "quantitative", "scale": {"domain": [-1.0164, 1.4344], "nice": false, "zero": false}, "axis": null},
      "y": {"field": "y", "type": "quantitative", "scale": {"domain": [-1.0779, 1.0779], "nice": false, "zero": false}, "axis": null}
    },
    "layer": [
      {"data": {"name": "disk"}, "transform": [{"filter": "datum.m == 2"}],
       "mark": {"type": "point", "shape": "circle", "filled": true, "opacity": 1, "strokeWidth": 0, "clip": true, "fill": "#ffad00"},
       "encoding": {"size": {"field": "r", "type": "quantitative", "scale": {"type": "pow", "exponent": 2, "domain": [0, 1], "range": [0, 59536]}, "legend": null}}},
      {"data": {"name": "blobs"}, "transform": [{"filter": "datum.m == 2 && datum.k == 'gold'"}],
       "mark": {"type": "point", "shape": "circle", "filled": true, "opacity": 1, "strokeWidth": 0, "clip": true,
                "fill": {"gradient": "radial", "stops": [{"offset": 0, "color": "rgba(255,198,0,1)"}, {"offset": 0.45, "color": "rgba(255,198,0,0.8)"}, {"offset": 1, "color": "rgba(255,198,0,0)"}]}},
       "encoding": {"size": {"field": "r", "type": "quantitative", "legend": null}}},
      {"data": {"name": "blobs"}, "transform": [{"filter": "datum.m == 2 && datum.k == 'org'"}],
       "mark": {"type": "point", "shape": "circle", "filled": true, "opacity": 1, "strokeWidth": 0, "clip": true,
                "fill": {"gradient": "radial", "stops": [{"offset": 0, "color": "rgba(255,152,0,1)"}, {"offset": 0.45, "color": "rgba(255,152,0,0.8)"}, {"offset": 1, "color": "rgba(255,152,0,0)"}]}},
       "encoding": {"size": {"field": "r", "type": "quantitative", "legend": null}}},
      {"data": {"name": "blobs"}, "transform": [{"filter": "datum.m == 2 && datum.k == 'ylw'"}],
       "mark": {"type": "point", "shape": "circle", "filled": true, "opacity": 1, "strokeWidth": 0, "clip": true,
                "fill": {"gradient": "radial", "stops": [{"offset": 0, "color": "rgba(250,228,44,1)"}, {"offset": 0.45, "color": "rgba(250,228,44,0.8)"}, {"offset": 1, "color": "rgba(250,228,44,0)"}]}},
       "encoding": {"size": {"field": "r", "type": "quantitative", "legend": null}}},
      {"data": {"name": "blobs"}, "transform": [{"filter": "datum.m == 2 && datum.k == 'lime'"}],
       "mark": {"type": "point", "shape": "circle", "filled": true, "opacity": 1, "strokeWidth": 0, "clip": true,
                "fill": {"gradient": "radial", "stops": [{"offset": 0, "color": "rgba(226,252,120,1)"}, {"offset": 0.45, "color": "rgba(226,252,120,0.8)"}, {"offset": 1, "color": "rgba(226,252,120,0)"}]}},
       "encoding": {"size": {"field": "r", "type": "quantitative", "legend": null}}},
      {"data": {"name": "ct"}, "transform": [{"filter": "datum.m == 2"}],
       "mark": {"type": "line", "interpolate": "catmull-rom", "clip": true, "strokeWidth": 0.9, "color": "#111111"},
       "encoding": {"detail": {"field": "c"}, "order": {"value": null}, "strokeDash": {"field": "ls", "type": "nominal", "scale": {"domain": ["s", "d"], "range": [[1, 0], [4, 2.5]]}, "legend": null}}},
      {"data": {"name": "cc"}, "transform": [{"filter": "datum.m == 2"}],
       "mark": {"type": "line", "interpolate": "cardinal-closed", "clip": true, "strokeWidth": 0.9, "color": "#111111"},
       "encoding": {"detail": {"field": "c"}, "order": {"value": null}, "strokeDash": {"field": "ls", "type": "nominal", "legend": null}}},
      {"data": {"name": "disk"}, "transform": [{"filter": "datum.m == 2"}],
       "mark": {"type": "point", "shape": "circle", "filled": false, "stroke": "#ffffff", "strokeWidth": 120, "size": 132496, "opacity": 1, "clip": true}},
      {"data": {"name": "elec"}, "mark": {"type": "text", "fontSize": 10.5, "color": "#1a1a1a"}, "encoding": {"text": {"field": "n", "type": "nominal"}}}
    ]
  },
  {
    "width": 12, "height": 263,
    "data": {"name": "cbar"}, "transform": [{"filter": "datum.m == 2"}],
    "mark": {"type": "rect", "fill": {"gradient": "linear", "x1": 0, "y1": 1, "x2": 0, "y2": 0, "stops": [{"offset": 0, "color": "#808080"}, {"offset": 0.25, "color": "#afa964"}, {"offset": 0.45, "color": "#dcbd34"}, {"offset": 0.52, "color": "#fbbf04"}, {"offset": 0.75, "color": "#ffa200"}, {"offset": 1, "color": "#ff8000"}]}},
    "encoding": {
      "y": {"field": "lo", "type": "quantitative", "scale": {"domain": [-0.11557, 0.31557], "nice": false, "zero": false},
            "axis": {"orient": "right", "values": [-0.1, 0.1, 0.3], "format": ".1f", "domain": false, "grid": false, "tickSize": 3, "tickColor": "#333333", "labelFontSize": 16, "labelPadding": 2, "title": null}},
      "y2": {"field": "hi"}
    }
  },
  {
    "width": 314, "height": 263,
    "view": {"fill": "#ebebeb", "stroke": "#c0c0c0", "strokeWidth": 1.5},
    "data": {"name": "ts"},
    "transform": [{"filter": "datum.c == 2"}],
    "encoding": {
      "x": {"field": "t", "type": "quantitative", "scale": {"domain": [-37.5, 787.5], "nice": false, "zero": false},
            "axis": {"values": [0, 200, 400, 600], "format": "d", "labelFontSize": 17, "tickSize": 0, "labelPadding": 5, "domain": false, "grid": true, "gridColor": "#b5b5b5", "gridDash": [3, 3], "gridWidth": 0.8, "title": "Time (ms)", "titleFontSize": 18, "titlePadding": 34}},
      "color": {"field": "cls", "type": "nominal", "scale": {"domain": ["Non-target", "Target"], "range": ["#0000ff", "#ff0000"]},
                "legend": {"title": null, "orient": "none", "legendX": 18, "legendY": 285, "direction": "horizontal", "symbolType": "stroke", "symbolStrokeWidth": 4, "symbolSize": 800, "symbolOpacity": 1, "labelFontSize": 16, "fillColor": "#f8f8f8", "strokeColor": "#dddddd", "padding": 4, "cornerRadius": 3, "columnPadding": 24, "labelOffset": 12}}
    },
    "layer": [
      {"mark": {"type": "area", "opacity": 0.2},
       "encoding": {"y": {"field": "lo", "type": "quantitative", "scale": {"domain": [-1.5, 1.0], "nice": false, "zero": false},
                          "axis": {"values": [-1.5, -1, -0.5, 0, 0.5, 1], "format": ".1f", "labelFontSize": 17, "tickSize": 0, "labelPadding": 4, "domain": false, "grid": true, "gridColor": "#b5b5b5", "gridDash": [3, 3], "gridWidth": 0.8, "title": "Component 2", "titleFontSize": 18, "titlePadding": 10}},
                    "y2": {"field": "hi"}}},
      {"mark": {"type": "line", "strokeWidth": 3.5}, "encoding": {"y": {"field": "m", "type": "quantitative"}}}
    ]
  },
  {
    "width": 356, "height": 263,
    "encoding": {
      "x": {"field": "x", "type": "quantitative", "scale": {"domain": [-1.4836, 1.4344], "nice": false, "zero": false},
            "axis": {"title": "Spatial Pattern", "domain": false, "ticks": false, "labels": false, "grid": false, "titlePadding": 52, "titleFontSize": 18, "titleX": 185}},
      "y": {"field": "y", "type": "quantitative", "scale": {"domain": [-1.0779, 1.0779], "nice": false, "zero": false}, "axis": null}
    },
    "layer": [
      {"data": {"name": "disk"}, "transform": [{"filter": "datum.m == 3"}],
       "mark": {"type": "point", "shape": "circle", "filled": true, "opacity": 1, "strokeWidth": 0, "clip": true,
                "fill": {"gradient": "linear", "x1": 0.25, "y1": 0, "x2": 0.75, "y2": 1, "stops": [{"offset": 0, "color": "#f97c00"}, {"offset": 0.45, "color": "#fc8400"}, {"offset": 0.7, "color": "#ff9500"}, {"offset": 0.88, "color": "#ffaa00"}, {"offset": 1, "color": "#ffc000"}]}},
       "encoding": {"size": {"field": "r", "type": "quantitative", "scale": {"type": "pow", "exponent": 2, "domain": [0, 1], "range": [0, 59536]}, "legend": null}}},
      {"data": {"name": "blobs"}, "transform": [{"filter": "datum.m == 3 && datum.k == 'gold'"}],
       "mark": {"type": "point", "shape": "circle", "filled": true, "opacity": 1, "strokeWidth": 0, "clip": true,
                "fill": {"gradient": "radial", "stops": [{"offset": 0, "color": "rgba(255,198,0,1)"}, {"offset": 0.45, "color": "rgba(255,198,0,0.8)"}, {"offset": 1, "color": "rgba(255,198,0,0)"}]}},
       "encoding": {"size": {"field": "r", "type": "quantitative", "legend": null}}},
      {"data": {"name": "ct"}, "transform": [{"filter": "datum.m == 3"}],
       "mark": {"type": "line", "interpolate": "catmull-rom", "clip": true, "strokeWidth": 0.9, "color": "#111111"},
       "encoding": {"detail": {"field": "c"}, "order": {"value": null}, "strokeDash": {"field": "ls", "type": "nominal", "scale": {"domain": ["s", "d"], "range": [[1, 0], [4, 2.5]]}, "legend": null}}},
      {"data": {"name": "disk"}, "transform": [{"filter": "datum.m == 3"}],
       "mark": {"type": "point", "shape": "circle", "filled": false, "stroke": "#ffffff", "strokeWidth": 120, "size": 132496, "opacity": 1, "clip": true}},
      {"data": {"name": "elec"}, "mark": {"type": "text", "fontSize": 10.5, "color": "#1a1a1a"}, "encoding": {"text": {"field": "n", "type": "nominal"}}}
    ]
  },
  {
    "width": 12, "height": 263,
    "data": {"name": "cbar"}, "transform": [{"filter": "datum.m == 3"}],
    "mark": {"type": "rect", "fill": {"gradient": "linear", "x1": 0, "y1": 1, "x2": 0, "y2": 0, "stops": [{"offset": 0, "color": "#808080"}, {"offset": 0.25, "color": "#afa964"}, {"offset": 0.45, "color": "#dcbd34"}, {"offset": 0.52, "color": "#fbbf04"}, {"offset": 0.75, "color": "#ffa200"}, {"offset": 1, "color": "#ff8000"}]}},
    "encoding": {
      "y": {"field": "lo", "type": "quantitative", "scale": {"domain": [-2.0791, 2.8791], "nice": false, "zero": false},
            "axis": {"orient": "right", "values": [-1.9, 0.4, 2.7], "format": ".1f", "domain": false, "grid": false, "tickSize": 3, "tickColor": "#333333", "labelFontSize": 16, "labelPadding": 2, "title": null}},
      "y2": {"field": "hi"}
    }
  },
  {
    "width": 299, "height": 263,
    "encoding": {
      "x": {"field": "x", "type": "quantitative", "scale": {"domain": [-1.0164, 1.4344], "nice": false, "zero": false},
            "axis": {"title": "Spatial Filter", "domain": false, "ticks": false, "labels": false, "grid": false, "titlePadding": 52, "titleFontSize": 18, "titleX": 135}},
      "y": {"field": "y", "type": "quantitative", "scale": {"domain": [-1.0779, 1.0779], "nice": false, "zero": false}, "axis": null}
    },
    "layer": [
      {"data": {"name": "disk"}, "transform": [{"filter": "datum.m == 4"}],
       "mark": {"type": "point", "shape": "circle", "filled": true, "opacity": 1, "strokeWidth": 0, "clip": true, "fill": "#ffad00"},
       "encoding": {"size": {"field": "r", "type": "quantitative", "scale": {"type": "pow", "exponent": 2, "domain": [0, 1], "range": [0, 59536]}, "legend": null}}},
      {"data": {"name": "blobs"}, "transform": [{"filter": "datum.m == 4 && datum.k == 'gold'"}],
       "mark": {"type": "point", "shape": "circle", "filled": true, "opacity": 1, "strokeWidth": 0, "clip": true,
                "fill": {"gradient": "radial", "stops": [{"offset": 0, "color": "rgba(255,198,0,1)"}, {"offset": 0.45, "color": "rgba(255,198,0,0.8)"}, {"offset": 1, "color": "rgba(255,198,0,0)"}]}},
       "encoding": {"size": {"field": "r", "type": "quantitative", "legend": null}}},
      {"data": {"name": "blobs"}, "transform": [{"filter": "datum.m == 4 && datum.k == 'org'"}],
       "mark": {"type": "point", "shape": "circle", "filled": true, "opacity": 1, "strokeWidth": 0, "clip": true,
                "fill": {"gradient": "radial", "stops": [{"offset": 0, "color": "rgba(255,152,0,1)"}, {"offset": 0.45, "color": "rgba(255,152,0,0.8)"}, {"offset": 1, "color": "rgba(255,152,0,0)"}]}},
       "encoding": {"size": {"field": "r", "type": "quantitative", "legend": null}}},
      {"data": {"name": "blobs"}, "transform": [{"filter": "datum.m == 4 && datum.k == 'dorg'"}],
       "mark": {"type": "point", "shape": "circle", "filled": true, "opacity": 1, "strokeWidth": 0, "clip": true,
                "fill": {"gradient": "radial", "stops": [{"offset": 0, "color": "rgba(255,130,0,1)"}, {"offset": 0.45, "color": "rgba(255,130,0,0.8)"}, {"offset": 1, "color": "rgba(255,130,0,0)"}]}},
       "encoding": {"size": {"field": "r", "type": "quantitative", "legend": null}}},
      {"data": {"name": "blobs"}, "transform": [{"filter": "datum.m == 4 && datum.k == 'ylw'"}],
       "mark": {"type": "point", "shape": "circle", "filled": true, "opacity": 1, "strokeWidth": 0, "clip": true,
                "fill": {"gradient": "radial", "stops": [{"offset": 0, "color": "rgba(250,228,44,1)"}, {"offset": 0.45, "color": "rgba(250,228,44,0.8)"}, {"offset": 1, "color": "rgba(250,228,44,0)"}]}},
       "encoding": {"size": {"field": "r", "type": "quantitative", "legend": null}}},
      {"data": {"name": "blobs"}, "transform": [{"filter": "datum.m == 4 && datum.k == 'lime'"}],
       "mark": {"type": "point", "shape": "circle", "filled": true, "opacity": 1, "strokeWidth": 0, "clip": true,
                "fill": {"gradient": "radial", "stops": [{"offset": 0, "color": "rgba(226,252,120,1)"}, {"offset": 0.45, "color": "rgba(226,252,120,0.8)"}, {"offset": 1, "color": "rgba(226,252,120,0)"}]}},
       "encoding": {"size": {"field": "r", "type": "quantitative", "legend": null}}},
      {"data": {"name": "ct"}, "transform": [{"filter": "datum.m == 4"}],
       "mark": {"type": "line", "interpolate": "catmull-rom", "clip": true, "strokeWidth": 0.9, "color": "#111111"},
       "encoding": {"detail": {"field": "c"}, "order": {"value": null}, "strokeDash": {"field": "ls", "type": "nominal", "scale": {"domain": ["s", "d"], "range": [[1, 0], [4, 2.5]]}, "legend": null}}},
      {"data": {"name": "cc"}, "transform": [{"filter": "datum.m == 4"}],
       "mark": {"type": "line", "interpolate": "cardinal-closed", "clip": true, "strokeWidth": 0.9, "color": "#111111"},
       "encoding": {"detail": {"field": "c"}, "order": {"value": null}, "strokeDash": {"field": "ls", "type": "nominal", "legend": null}}},
      {"data": {"name": "disk"}, "transform": [{"filter": "datum.m == 4"}],
       "mark": {"type": "point", "shape": "circle", "filled": false, "stroke": "#ffffff", "strokeWidth": 120, "size": 132496, "opacity": 1, "clip": true}},
      {"data": {"name": "elec"}, "mark": {"type": "text", "fontSize": 10.5, "color": "#1a1a1a"}, "encoding": {"text": {"field": "n", "type": "nominal"}}}
    ]
  },
  {
    "width": 12, "height": 263,
    "data": {"name": "cbar"}, "transform": [{"filter": "datum.m == 4"}],
    "mark": {"type": "rect", "fill": {"gradient": "linear", "x1": 0, "y1": 1, "x2": 0, "y2": 0, "stops": [{"offset": 0, "color": "#808080"}, {"offset": 0.25, "color": "#afa964"}, {"offset": 0.45, "color": "#dcbd34"}, {"offset": 0.52, "color": "#fbbf04"}, {"offset": 0.75, "color": "#ffa200"}, {"offset": 1, "color": "#ff8000"}]}},
    "encoding": {
      "y": {"field": "lo", "type": "quantitative", "scale": {"domain": [-0.207787, 0.007787], "nice": false, "zero": false},
            "axis": {"orient": "right", "values": [-0.2, -0.1, 0.0], "format": ".1f", "domain": false, "grid": false, "tickSize": 3, "tickColor": "#333333", "labelFontSize": 16, "labelPadding": 2, "title": null}},
      "y2": {"field": "hi"}
    }
  }
]
}
